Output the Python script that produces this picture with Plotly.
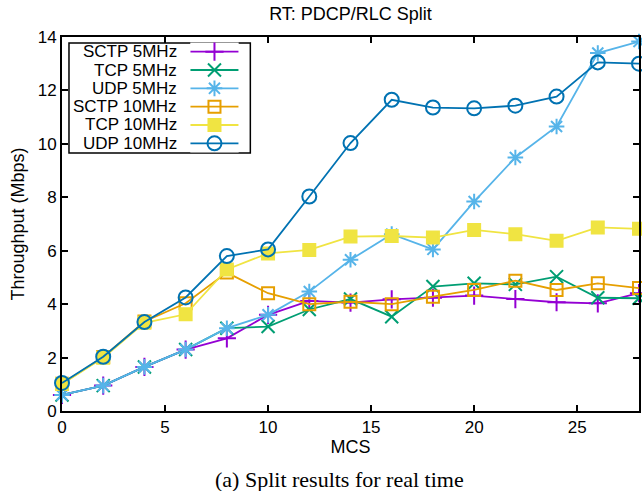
import plotly.graph_objects as go

mcs = [0, 2, 4, 6, 8, 10, 12, 14, 16, 18, 20, 22, 24, 26, 28]

sctp_5 = [0.60, 0.95, 1.65, 2.30, 2.72, 3.60, 4.12, 4.06, 4.18, 4.24, 4.32, 4.19, 4.07, 4.03, 4.41]
tcp_5 = [0.60, 0.95, 1.65, 2.30, 3.10, 3.16, 3.80, 4.19, 3.53, 4.66, 4.78, 4.74, 5.03, 4.24, 4.22]
udp_5 = [0.60, 0.95, 1.65, 2.30, 3.10, 3.60, 4.47, 5.66, 6.62, 6.05, 7.84, 9.49, 10.65, 13.40, 13.83]
sctp_10 = [1.02, 2.02, 3.35, 4.03, 5.18, 4.41, 4.00, 4.09, 4.00, 4.28, 4.53, 4.88, 4.53, 4.78, 4.60]
tcp_10 = [1.01, 1.99, 3.30, 3.62, 5.30, 5.90, 6.03, 6.53, 6.55, 6.49, 6.78, 6.62, 6.37, 6.87, 6.82]
udp_10 = [1.05, 2.03, 3.33, 4.25, 5.80, 6.05, 8.03, 10.03, 11.65, 11.36, 11.33, 11.43, 11.77, 13.05, 13.00]

names = ["SCTP 5MHz", "TCP 5MHz", "UDP 5MHz", "SCTP 10MHz", "TCP 10MHz", "UDP 10MHz"]
series = [sctp_5, tcp_5, udp_5, sctp_10, tcp_10, udp_10]
colors = ["#9400d3", "#009e73", "#56b4e9", "#e69f00", "#f0e442", "#0072b2"]
symbols = ["cross-thin-open", "x-thin-open", "asterisk-open", "square-open", "square", "circle-open"]
sizes = [13, 13, 13, 12, 12, 14]

x_ticks = [0, 5, 10, 15, 20, 25]
y_ticks = [0, 2, 4, 6, 8, 10, 12, 14]

FONT = "Liberation Sans, Arial, sans-serif"
fig = go.Figure()

for nm, ys, c, s, sz in zip(names, series, colors, symbols, sizes):
    fig.add_trace(go.Scatter(
        x=mcs, y=ys, name=nm, mode="lines+markers",
        line=dict(color=c, width=1.8),
        marker=dict(symbol=s, size=sz, color=c, line=dict(color=c, width=2)),
        showlegend=False, cliponaxis=False,
    ))

# custom legend (gnuplot style: text right-aligned, sample on the right)
n = len(names)
for i, (nm, c, s, sz) in enumerate(zip(names, colors, symbols, sizes)):
    row = n - 1 - i
    fig.add_trace(go.Scatter(x=[0, 1], y=[row, row], mode="lines", xaxis="x2", yaxis="y2",
                             line=dict(color=c, width=1.8), showlegend=False, hoverinfo="skip"))
    fig.add_trace(go.Scatter(x=[0.5], y=[row], mode="markers", xaxis="x2", yaxis="y2",
                             marker=dict(symbol=s, size=sz, color=c, line=dict(color=c, width=2)),
                             showlegend=False, hoverinfo="skip", cliponaxis=False))
    fig.add_annotation(x=0.2003, y=row, xref="paper", yref="y2", text=nm, showarrow=False,
                       xanchor="right", yanchor="middle", borderpad=0,
                       font=dict(family=FONT, size=17, color="black"))

fig.add_shape(type="rect", xref="paper", yref="paper", x0=0.0121, x1=0.3264, y0=0.690, y1=0.984,
              line=dict(color="black", width=1.5), fillcolor="white", layer="below")

fig.update_layout(
    width=642, height=491,
    margin=dict(l=62, r=1, t=37, b=80),
    paper_bgcolor="white", plot_bgcolor="white",
    font=dict(family=FONT, size=17, color="black"),
    title=dict(text="RT: PDCP/RLC Split", x=0.5, xref="paper", xanchor="center",
               y=0.972, yanchor="middle", font=dict(family=FONT, size=18)),
    xaxis=dict(range=[0, 28], tickvals=x_ticks, showgrid=False, zeroline=False,
               showline=True, linecolor="black", linewidth=2, mirror="ticks",
               ticks="inside", ticklen=6, tickwidth=1.5, tickcolor="black",
               tickfont=dict(size=17),
               title=dict(text="MCS", standoff=0, font=dict(size=18))),
    yaxis=dict(range=[0, 14], tickvals=y_ticks, showgrid=False, zeroline=False,
               showline=True, linecolor="black", linewidth=2, mirror="ticks",
               ticks="inside", ticklen=6, tickwidth=1.5, tickcolor="black",
               tickfont=dict(size=17),
               title=dict(text="Throughput (Mbps)", standoff=8, font=dict(size=18))),
    xaxis2=dict(domain=[0.2223, 0.3062], range=[0, 1], visible=False, anchor="y2"),
    yaxis2=dict(domain=[0.6913, 0.9852], range=[-0.5, 5.5], visible=False, anchor="x2"),
)

fig.add_annotation(text="(a) Split results for real time", xref="paper", yref="paper",
                   x=(340 - 62) / 579, y=-(479 - 411) / 374, xanchor="center", yanchor="middle",
                   showarrow=False,
                   font=dict(family="Liberation Serif, Times New Roman, serif", size=22, color="black"))

fig.write_html("out.html", config={"displayModeBar": False},
               post_script="document.body.style.margin='0';document.body.style.overflow='hidden';")
